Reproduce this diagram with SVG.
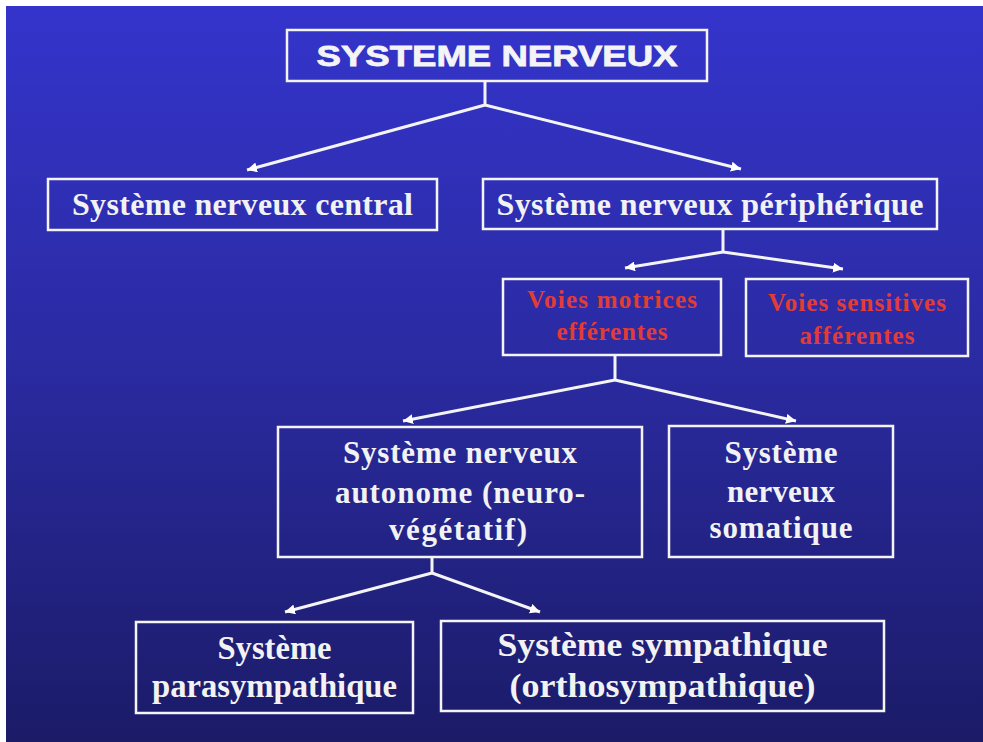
<svg xmlns="http://www.w3.org/2000/svg" width="983" height="742" viewBox="0 0 983 742">
<defs>
<linearGradient id="bg" x1="0" y1="0" x2="0" y2="1">
<stop offset="0" stop-color="#3434cc"/>
<stop offset="0.5" stop-color="#2a2aa0"/>
<stop offset="1" stop-color="#1b1b68"/>
</linearGradient>
<marker id="ah" markerUnits="userSpaceOnUse" markerWidth="12" markerHeight="10" refX="10" refY="5" orient="auto">
<path d="M0,0 L10,5 L0,10 Z" fill="#ffffff"/>
</marker>
<style>
.box{fill:none;stroke:#f4f4f4;stroke-width:2.5}
.t{font-family:"Liberation Serif","Times New Roman",serif;font-weight:bold;fill:#f2f2f2;text-anchor:middle}
.r{font-family:"Liberation Serif","Times New Roman",serif;font-weight:bold;fill:#e23c34;text-anchor:middle;font-size:25px}
.c{fill:none;stroke:#f4f4f4;stroke-width:3}
.a{marker-end:url(#ah)}
</style>
</defs>
<rect x="0" y="0" width="983" height="742" fill="#ffffff"/>
<rect x="6" y="6" width="977" height="736" fill="url(#bg)"/>

<g id="connectors">
<path class="c" d="M485,81 V105"/>
<path class="c a" d="M485,105 L247,170"/>
<path class="c a" d="M485,105 L741,169"/>
<path class="c" d="M723,229 V252"/>
<path class="c a" d="M723,252 L625,268"/>
<path class="c a" d="M723,252 L843,269"/>
<path class="c" d="M615,355 V380"/>
<path class="c a" d="M615,380 L403,421"/>
<path class="c a" d="M615,380 L796,421"/>
<path class="c" d="M432,557 V573"/>
<path class="c a" d="M432,573 L285,612"/>
<path class="c a" d="M432,573 L540,612"/>
</g>

<g id="systeme-nerveux">
<rect class="box" x="287" y="30" width="420" height="51" stroke-width="3"/>
<text x="497" y="66" font-family="'Liberation Sans',Arial,sans-serif" font-weight="bold" font-size="30" fill="#f4f4f4" stroke="#f4f4f4" stroke-width="0.8" text-anchor="middle" textLength="361" lengthAdjust="spacingAndGlyphs">SYSTEME NERVEUX</text>
</g>

<g id="snc">
<rect class="box" x="48" y="179" width="389" height="51"/>
<text class="t" x="242.5" y="215" font-size="32" textLength="341">Système nerveux central</text>
</g>

<g id="snp">
<rect class="box" x="483" y="179" width="454" height="50"/>
<text class="t" x="710" y="215" font-size="32" textLength="427">Système nerveux périphérique</text>
</g>

<g id="voies-motrices">
<rect class="box" x="503" y="279" width="218" height="76" stroke-width="3"/>
<text class="r" x="612" y="308" textLength="170">Voies motrices</text>
<text class="r" x="612" y="340" textLength="111">efférentes</text>
</g>

<g id="voies-sensitives">
<rect class="box" x="746" y="279" width="222" height="77" stroke-width="1.5" stroke="#d8d8e8"/>
<text class="r" x="857" y="311" textLength="178">Voies sensitives</text>
<text class="r" x="857" y="344" textLength="115">afférentes</text>
</g>

<g id="sn-autonome">
<rect class="box" x="278" y="427" width="364" height="130"/>
<text class="t" x="460" y="463" font-size="31" textLength="234">Système nerveux</text>
<text class="t" x="460" y="503" font-size="31" textLength="250">autonome (neuro-</text>
<text class="t" x="458" y="540" font-size="31" textLength="138">végétatif)</text>
</g>

<g id="sn-somatique">
<rect class="box" x="669" y="426" width="224" height="131"/>
<text class="t" x="781" y="463" font-size="31" textLength="113">Système</text>
<text class="t" x="781" y="502" font-size="31" textLength="108">nerveux</text>
<text class="t" x="781" y="538" font-size="31" textLength="143">somatique</text>
</g>

<g id="parasympathique">
<rect class="box" x="136" y="622" width="277" height="91"/>
<text class="t" x="274.5" y="659" font-size="34" textLength="114" lengthAdjust="spacingAndGlyphs">Système</text>
<text class="t" x="274.5" y="697" font-size="34" textLength="245" lengthAdjust="spacingAndGlyphs">parasympathique</text>
</g>

<g id="sympathique">
<rect class="box" x="441" y="621" width="443" height="90"/>
<text class="t" x="662.5" y="656" font-size="34" textLength="330" lengthAdjust="spacingAndGlyphs">Système sympathique</text>
<text class="t" x="662.5" y="697" font-size="34" textLength="306" lengthAdjust="spacingAndGlyphs">(orthosympathique)</text>
</g>
</svg>
